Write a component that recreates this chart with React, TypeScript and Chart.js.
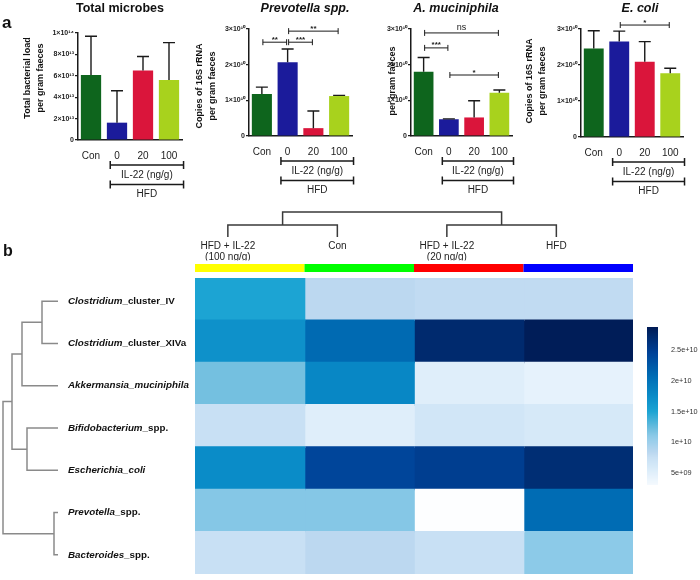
import React, { useEffect, useRef } from 'react';
import { Chart, registerables } from 'chart.js';

Chart.register(...registerables);
Chart.defaults.font.family = '"Liberation Sans", Arial, sans-serif';

// ---------------- Panel a: data ----------------
const barCategories = ['Con', '0', '20', '100'];
const barColors = ['#0e651d', '#1b1b9b', '#da153b', '#a8d21d'];

const totalMicrobesMean = [6.07e13, 1.62e13, 6.5e13, 5.6e13];
const totalMicrobesErrTop = [9.7e13, 4.6e13, 7.8e13, 9.1e13];
const prevotellaMean = [1.18e10, 2.07e10, 0.22e10, 1.12e10];
const prevotellaErrTop = [1.37e10, 2.44e10, 0.7e10, 1.14e10];
const akkermansiaMean = [1.8e10, 0.47e10, 0.52e10, 1.21e10];
const akkermansiaErrTop = [2.2e10, 0.48e10, 0.99e10, 1.29e10];
const ecoliMean = [2.46e10, 2.65e10, 2.09e10, 1.77e10];
const ecoliErrTop = [2.95e10, 2.94e10, 2.65e10, 1.91e10];

const totalMicrobesTicks = [0, 2e13, 4e13, 6e13, 8e13, 1e14];
const copiesTicks = [0, 1e10, 2e10, 3e10];

type Sig = { from: number; to: number; y: number; label: string };
const totalMicrobesSig: Sig[] = [];
const prevotellaSig: Sig[] = [
  { from: 0, to: 1, y: 2.63e10, label: '**' },
  { from: 1, to: 2, y: 2.63e10, label: '***' },
  { from: 1, to: 3, y: 2.94e10, label: '**' },
];
const akkermansiaSig: Sig[] = [
  { from: 0, to: 3, y: 2.89e10, label: 'ns' },
  { from: 0, to: 1, y: 2.47e10, label: '***' },
  { from: 1, to: 3, y: 1.71e10, label: '*' },
];
const ecoliSig: Sig[] = [{ from: 1, to: 3, y: 3.11e10, label: '*' }];

// ---------------- Panel b: data ----------------
const heatRowLabels = [
  'Clostridium_cluster_IV',
  'Clostridium_cluster_XIVa',
  'Akkermansia_muciniphila',
  'Bifidobacterium_spp.',
  'Escherichia_coli',
  'Prevotella_spp.',
  'Bacteroides_spp.',
];
const heatRowItalicChars = [11, 11, 23, 15, 16, 10, 11];
const heatColumnNames = ['HFD + IL-22 (100 ng/g)', 'Con', 'HFD + IL-22 (20 ng/g)', 'HFD'];
const heatColumnLabelLines = [['HFD + IL-22', '(100 ng/g)'], ['Con'], ['HFD + IL-22', '(20 ng/g)'], ['HFD']];
const heatGroupColors = ['#ffff00', '#00ff00', '#ff0000', '#0000ff'];

const heatIL22High = [1.5e10, 1.7e10, 1.2e10, 7.5e9, 1.75e10, 1.13e10, 7.5e9];
const heatCon = [8.3e9, 2.1e10, 1.8e10, 5.2e9, 2.42e10, 1.13e10, 8.3e9];
const heatIL22Low = [8.0e9, 2.72e10, 5.2e9, 6.5e9, 2.5e10, 2.2e9, 7.5e9];
const heatHFD = [8.0e9, 2.85e10, 4.5e9, 6.0e9, 2.68e10, 2.08e10, 1.1e10];

// linkage: [memberA, memberB, height]; ids >= n refer to earlier merges
const rowLinkage = [
  [0, 1, 16],
  [7, 2, 36],
  [3, 4, 31],
  [8, 9, 46],
  [5, 6, 4],
  [10, 11, 55],
];
const colLinkage = [
  [0, 1, 12],
  [2, 3, 12],
  [4, 5, 25],
];

const colormapValues = [2.0e9, 4.5e9, 6.0e9, 7.5e9, 8.3e9, 1.1e10, 1.2e10, 1.5e10, 1.75e10, 2.08e10, 2.45e10, 2.72e10, 2.9e10];
const colormapColors = ['#ffffff', '#e6f2fc', '#d6e9f8', '#c8e0f4', '#bcd8f0', '#8ccae8', '#74c0e0', '#1ca4d3', '#0a8cc8', '#006cb4', '#004298', '#002a6e', '#001850'];
const colorbarRange = [3.05e9, 2.875e10];
const colorbarTicks = [5e9, 1e10, 1.5e10, 2e10, 2.5e10];
const colorbarTickLabels = ['5e+09', '1e+10', '1.5e+10', '2e+10', '2.5e+10'];

// ---------------- helpers ----------------
const FAMILY = '"Liberation Sans", Arial, sans-serif';
const f = (s: string) => `${s} ${FAMILY}`;

const SUP: Record<string, string> = { '0': '⁰', '1': '¹', '2': '²', '3': '³', '4': '⁴', '5': '⁵', '6': '⁶', '7': '⁷', '8': '⁸', '9': '⁹' };
function sci(v: number): string {
  if (v === 0) return '0';
  const e = Math.floor(Math.log10(v) + 1e-9);
  const m = Math.round(v / Math.pow(10, e));
  return `${m}×10${String(e).split('').map((c) => SUP[c] || c).join('')}`;
}

function hexToRgb(h: string): number[] {
  const n = parseInt(h.slice(1), 16);
  return [(n >> 16) & 255, (n >> 8) & 255, n & 255];
}
function valueToColor(v: number): string {
  const vs = colormapValues;
  if (v <= vs[0]) return colormapColors[0];
  if (v >= vs[vs.length - 1]) return colormapColors[vs.length - 1];
  let i = 0;
  while (i < vs.length - 2 && v > vs[i + 1]) i++;
  const t = (v - vs[i]) / (vs[i + 1] - vs[i]);
  const a = hexToRgb(colormapColors[i]);
  const b = hexToRgb(colormapColors[i + 1]);
  const c = a.map((x, k) => Math.round(x + (b[k] - x) * t));
  return `rgb(${c[0]},${c[1]},${c[2]})`;
}

type PanelCfg = {
  key: string;
  title: string;
  italic: boolean;
  means: number[];
  errTop: number[];
  ticks: number[];
  sig: Sig[];
  yTitle: string[];
  canvasLeft: number;
  canvasWidth: number;
  areaLeft: number;
  areaRight: number;
  areaTop: number;
  areaBottom: number;
  titleX: number;
  yTitleX: number;
  yTitleY: number;
  letter?: string;
};

const panels: PanelCfg[] = [
  {
    key: 'total', title: 'Total microbes', italic: false,
    means: totalMicrobesMean, errTop: totalMicrobesErrTop, ticks: totalMicrobesTicks, sig: totalMicrobesSig,
    yTitle: ['Total bacterial load', 'per gram faeces'],
    canvasLeft: 0, canvasWidth: 190, areaLeft: 78, areaRight: 182, areaTop: 33, areaBottom: 140,
    titleX: 120, yTitleX: 28, yTitleY: 78, letter: 'a',
  },
  {
    key: 'prev', title: 'Prevotella spp.', italic: true,
    means: prevotellaMean, errTop: prevotellaErrTop, ticks: copiesTicks, sig: prevotellaSig,
    yTitle: ['Copies of 16S rRNA', 'per gram faeces'],
    canvasLeft: 190, canvasWidth: 170, areaLeft: 249, areaRight: 352, areaTop: 29, areaBottom: 136,
    titleX: 305, yTitleX: 200, yTitleY: 86,
  },
  {
    key: 'akk', title: 'A. muciniphila', italic: true,
    means: akkermansiaMean, errTop: akkermansiaErrTop, ticks: copiesTicks, sig: akkermansiaSig,
    yTitle: ['per gram faeces'],
    canvasLeft: 360, canvasWidth: 165, areaLeft: 411, areaRight: 512, areaTop: 29, areaBottom: 136,
    titleX: 456, yTitleX: 393, yTitleY: 81,
  },
  {
    key: 'ecoli', title: 'E. coli', italic: true,
    means: ecoliMean, errTop: ecoliErrTop, ticks: copiesTicks, sig: ecoliSig,
    yTitle: ['Copies of 16S rRNA', 'per gram faeces'],
    canvasLeft: 520, canvasWidth: 180, areaLeft: 581, areaRight: 683, areaTop: 29, areaBottom: 137,
    titleX: 640, yTitleX: 530, yTitleY: 81,
  },
];

function panelPlugin(cfg: PanelCfg) {
  return {
    id: 'panelDecor',
    afterDraw(chart: any) {
      const { ctx, chartArea } = chart;
      const xs = chart.scales.x;
      const ys = chart.scales.y;
      const off = cfg.canvasLeft;
      ctx.save();
      ctx.fillStyle = '#1a1a1a';
      ctx.strokeStyle = '#1a1a1a';

      // error bars
      ctx.lineWidth = 1.4;
      cfg.means.forEach((m, i) => {
        const x = xs.getPixelForValue(i);
        const yb = ys.getPixelForValue(m);
        const yt = ys.getPixelForValue(cfg.errTop[i]);
        ctx.beginPath();
        ctx.moveTo(x, yb);
        ctx.lineTo(x, yt);
        ctx.moveTo(x - 6, yt);
        ctx.lineTo(x + 6, yt);
        ctx.stroke();
      });

      // significance brackets
      ctx.lineWidth = 1;
      cfg.sig.forEach((s) => {
        const x0 = xs.getPixelForValue(s.from) + 1;
        const x1 = xs.getPixelForValue(s.to) - 1;
        const y = ys.getPixelForValue(s.y);
        ctx.beginPath();
        ctx.moveTo(x0, y);
        ctx.lineTo(x1, y);
        ctx.moveTo(x0, y - 3);
        ctx.lineTo(x0, y + 3);
        ctx.moveTo(x1, y - 3);
        ctx.lineTo(x1, y + 3);
        ctx.stroke();
        ctx.textAlign = 'center';
        ctx.textBaseline = 'alphabetic';
        if (s.label === 'ns') {
          ctx.font = f('9px');
          ctx.fillText(s.label, (x0 + x1) / 2, y - 2.5);
        } else {
          ctx.font = f('bold 8px');
          ctx.fillText(s.label, (x0 + x1) / 2, y - 0.5);
        }
      });

      // IL-22 / HFD brackets
      const cw = xs.getPixelForValue(1) - xs.getPixelForValue(0);
      const bx0 = xs.getPixelForValue(1) - 0.26 * cw;
      const bx1 = xs.getPixelForValue(3) + 0.56 * cw;
      const base = chartArea.bottom;
      ctx.lineWidth = 1.5;
      [base + 25, base + 44.5].forEach((y) => {
        ctx.beginPath();
        ctx.moveTo(bx0, y);
        ctx.lineTo(bx1, y);
        ctx.moveTo(bx0, y - 4);
        ctx.lineTo(bx0, y + 4);
        ctx.moveTo(bx1, y - 4);
        ctx.lineTo(bx1, y + 4);
        ctx.stroke();
      });
      ctx.font = f('10px');
      ctx.fillStyle = '#222';
      ctx.textAlign = 'center';
      ctx.textBaseline = 'middle';
      ctx.fillText('IL-22 (ng/g)', (bx0 + bx1) / 2, base + 35);
      ctx.fillText('HFD', (bx0 + bx1) / 2, base + 54);

      // title
      ctx.fillStyle = '#111';
      ctx.font = f(cfg.italic ? 'italic bold 12.5px' : 'bold 12.5px');
      ctx.fillText(cfg.title, cfg.titleX - off, 9);

      // y title
      ctx.save();
      ctx.translate(cfg.yTitleX - off, cfg.yTitleY);
      ctx.rotate(-Math.PI / 2);
      ctx.font = f('bold 9px');
      ctx.textAlign = 'center';
      ctx.textBaseline = 'middle';
      cfg.yTitle.forEach((t, k) => ctx.fillText(t, 0, k * 12.5));
      ctx.restore();

      if (cfg.letter) {
        ctx.font = f('bold 17px');
        ctx.textAlign = 'left';
        ctx.textBaseline = 'middle';
        ctx.fillText(cfg.letter, 2, 23);
      }
      ctx.restore();
    },
  };
}

function makeBarChart(canvas: HTMLCanvasElement, p: PanelCfg) {
  return new Chart(canvas, {
    type: 'bar',
    data: {
      labels: barCategories,
      datasets: [
        {
          data: p.means,
          backgroundColor: barColors,
          borderWidth: 0,
          barPercentage: 0.78,
          categoryPercentage: 1,
        },
      ],
    },
    options: {
      responsive: false,
      maintainAspectRatio: false,
      animation: false,
      events: [],
      layout: { padding: { left: 0, top: p.areaTop, right: p.canvasLeft + p.canvasWidth - p.areaRight, bottom: 0 } },
      plugins: { legend: { display: false }, tooltip: { enabled: false } },
      scales: {
        x: {
          type: 'category',
          grid: { display: false, drawTicks: false },
          border: { display: true, color: '#1a1a1a', width: 1.5 },
          ticks: { color: '#222', font: { size: 10 }, padding: 10, maxRotation: 0, autoSkip: false },
          afterFit: (s: any) => {
            s.height = 200 - p.areaBottom;
          },
        },
        y: {
          type: 'linear',
          min: 0,
          max: p.ticks[p.ticks.length - 1],
          grid: { display: true, drawOnChartArea: false, drawTicks: true, tickLength: 3, color: '#1a1a1a', lineWidth: 1.2 },
          border: { display: true, color: '#1a1a1a', width: 1.5 },
          ticks: { color: '#222', font: { size: 7, weight: 'bold' }, padding: 1, callback: (v: any) => sci(Number(v)) },
          afterBuildTicks: (s: any) => {
            s.ticks = p.ticks.map((v) => ({ value: v }));
          },
          afterFit: (s: any) => {
            s.width = p.areaLeft - p.canvasLeft;
          },
        },
      },
    } as any,
    plugins: [panelPlugin(p)],
  });
}

const heatPlugin = {
  id: 'heatDecor',
  afterDraw(chart: any) {
    const { ctx, chartArea: ca } = chart;
    const xs = chart.scales.x;
    const ys = chart.scales.y;
    ctx.save();

    // panel letter
    ctx.fillStyle = '#111';
    ctx.font = f('bold 16px');
    ctx.textAlign = 'left';
    ctx.textBaseline = 'middle';
    ctx.fillText('b', 3, 52);

    const stripTop = ca.top - 14;
    const stripBottom = ca.top - 6;
    const colW = xs.getPixelForValue(1) - xs.getPixelForValue(0);
    const leafX = heatColumnLabelLines.map((_, j) => xs.getPixelForValue(j + 0.5) - 0.2 * colW);

    // column labels (descenders of the second line hidden above the colour strip)
    ctx.save();
    ctx.beginPath();
    ctx.rect(0, 0, chart.width, stripTop - 3.5);
    ctx.clip();
    ctx.font = f('10px');
    ctx.fillStyle = '#222';
    ctx.textAlign = 'center';
    ctx.textBaseline = 'alphabetic';
    heatColumnLabelLines.forEach((lines, j) => {
      lines.forEach((t, k) => ctx.fillText(t, leafX[j], ca.top - 29.5 + k * 11.5));
    });
    ctx.restore();

    // group colour strip
    heatGroupColors.forEach((c, j) => {
      const x0 = xs.getPixelForValue(j);
      const x1 = xs.getPixelForValue(j + 1);
      ctx.fillStyle = c;
      ctx.fillRect(x0, stripTop, x1 - x0, stripBottom - stripTop);
    });

    // column dendrogram
    const leafBase = ca.top - 41;
    const colPos = leafX.map((x) => ({ x, y: leafBase }));
    ctx.strokeStyle = '#3a3a3a';
    ctx.lineWidth = 1.5;
    ctx.beginPath();
    colLinkage.forEach(([a, b, h]) => {
      const pa = colPos[a];
      const pb = colPos[b];
      const y = leafBase - h;
      ctx.moveTo(pa.x, pa.y);
      ctx.lineTo(pa.x, y);
      ctx.lineTo(pb.x, y);
      ctx.lineTo(pb.x, pb.y);
      colPos.push({ x: (pa.x + pb.x) / 2, y });
    });
    ctx.stroke();

    // row dendrogram
    const leafRight = 58;
    const rowPos = heatRowLabels.map((_, i) => ({ x: leafRight, y: ys.getPixelForValue(i) + 2 }));
    ctx.strokeStyle = '#8a8a8a';
    ctx.lineWidth = 1.5;
    ctx.beginPath();
    rowLinkage.forEach(([a, b, h]) => {
      const pa = rowPos[a];
      const pb = rowPos[b];
      const x = leafRight - h;
      ctx.moveTo(pa.x, pa.y);
      ctx.lineTo(x, pa.y);
      ctx.lineTo(x, pb.y);
      ctx.lineTo(pb.x, pb.y);
      rowPos.push({ x, y: (pa.y + pb.y) / 2 });
    });
    ctx.stroke();

    // row labels
    ctx.fillStyle = '#111';
    ctx.textAlign = 'left';
    ctx.textBaseline = 'middle';
    heatRowLabels.forEach((lab, i) => {
      const y = ys.getPixelForValue(i) + 2;
      const it = lab.slice(0, heatRowItalicChars[i]);
      const rest = lab.slice(heatRowItalicChars[i]);
      ctx.font = f('italic bold 9.8px');
      ctx.fillText(it, 68, y);
      const w = ctx.measureText(it).width;
      ctx.font = f('bold 9.8px');
      ctx.fillText(rest, 68 + w, y);
    });

    // colour bar
    const cbX = 647;
    const cbW = 11;
    const cbTop = 127;
    const cbBottom = 285;
    const toY = (v: number) => cbBottom - ((v - colorbarRange[0]) / (colorbarRange[1] - colorbarRange[0])) * (cbBottom - cbTop);
    for (let y = cbTop; y < cbBottom; y++) {
      const v = colorbarRange[0] + ((cbBottom - y - 0.5) / (cbBottom - cbTop)) * (colorbarRange[1] - colorbarRange[0]);
      ctx.fillStyle = valueToColor(v);
      ctx.fillRect(cbX, y, cbW, 1);
    }
    ctx.fillStyle = '#333';
    ctx.font = f('7.3px');
    colorbarTicks.forEach((v, k) => ctx.fillText(colorbarTickLabels[k], 671, toY(v)));

    ctx.restore();
  },
};

function makeHeatmap(canvas: HTMLCanvasElement) {
  const columnValues = [heatIL22High, heatCon, heatIL22Low, heatHFD];
  return new Chart(canvas, {
    type: 'bar',
    data: {
      labels: heatRowLabels,
      datasets: heatColumnNames.map((name, j) => ({
        label: name,
        data: heatRowLabels.map(() => [j, j + 1]),
        backgroundColor: columnValues[j].map(valueToColor),
        borderWidth: 0,
        barPercentage: 1,
        categoryPercentage: 1,
        grouped: false,
        inflateAmount: 0.8,
      })),
    },
    options: {
      indexAxis: 'y',
      responsive: false,
      maintainAspectRatio: false,
      animation: false,
      events: [],
      layout: { padding: { left: 195, top: 78, right: 67, bottom: 6 } },
      plugins: { legend: { display: false }, tooltip: { enabled: false } },
      scales: {
        x: { type: 'linear', min: 0, max: 4, display: false },
        y: { type: 'category', display: false, offset: true },
      },
    } as any,
    plugins: [heatPlugin],
  });
}

export default function App() {
  const refs = useRef<(HTMLCanvasElement | null)[]>([]);
  useEffect(() => {
    document.body.style.margin = '0';
    const charts: Chart[] = [];
    panels.forEach((p, i) => {
      const c = refs.current[i];
      if (c) charts.push(makeBarChart(c, p));
    });
    const hc = refs.current[panels.length];
    if (hc) charts.push(makeHeatmap(hc));
    return () => charts.forEach((c) => c.destroy());
  }, []);
  return (
    <div style={{ position: 'absolute', left: 0, top: 0, width: 700, height: 580, background: '#fff', overflow: 'hidden' }}>
      {panels.map((p, i) => (
        <canvas
          key={p.key}
          ref={(el) => {
            refs.current[i] = el;
          }}
          width={p.canvasWidth}
          height={200}
          style={{ position: 'absolute', left: p.canvasLeft, top: 0, width: p.canvasWidth, height: 200 }}
        />
      ))}
      <canvas
        ref={(el) => {
          refs.current[panels.length] = el;
        }}
        width={700}
        height={380}
        style={{ position: 'absolute', left: 0, top: 200, width: 700, height: 380 }}
      />
    </div>
  );
}
